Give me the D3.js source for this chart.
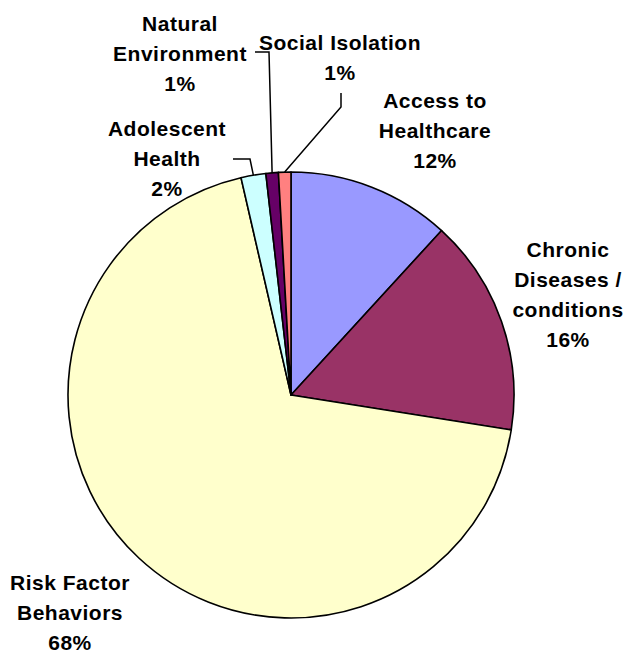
<!DOCTYPE html>
<html>
<head>
<meta charset="utf-8">
<script src="https://cdn.jsdelivr.net/npm/d3@7"></script>
<style>
  html, body { margin: 0; padding: 0; background: #fff; }
  svg { display: block; }
  text { font-family: "Liberation Sans", Arial, sans-serif; font-weight: bold; fill: #000; }
</style>
</head>
<body>
<svg id="chart" width="629" height="654"></svg>
<script>
// ---- data ----
const categories = ["Access to Healthcare", "Chronic Diseases / conditions", "Risk Factor Behaviors",
                    "Adolescent Health", "Natural Environment", "Social Isolation"];
const values = [11.8, 15.7, 68.9, 1.8, 0.9, 0.9];
const pctLabels = ["12%", "16%", "68%", "2%", "1%", "1%"];
const labelLines = [
  ["Access to", "Healthcare"],
  ["Chronic", "Diseases /", "conditions"],
  ["Risk Factor", "Behaviors"],
  ["Adolescent", "Health"],
  ["Natural", "Environment"],
  ["Social Isolation"]
];
const colors = ["#9999FF", "#993366", "#FFFFCC", "#CCFFFF", "#660066", "#FF8080"];

// ---- layout ----
const cx = 291, cy = 395, r = 223;
const fontSize = 21, lineH = 30;
// label anchor: center x, first baseline y
const labelPos = [
  { x: 435, y: 108 },
  { x: 568, y: 257 },
  { x: 70,  y: 590 },
  { x: 167, y: 136 },
  { x: 180, y: 31 },
  { x: 340, y: 50 }
];
// leader line waypoints (label side), null if none
const leaders = [
  null, null, null,
  [[233, 159], [250, 159]],
  [[255, 52], [269, 52]],
  [[341, 93], [341, 107]]
];

const svg = d3.select("#chart");
const g = svg.append("g").attr("transform", `translate(${cx},${cy})`);

const pie = d3.pie().sort(null).value(d => d).startAngle(0).endAngle(2 * Math.PI);
const arcs = pie(values);
const arc = d3.arc().innerRadius(0).outerRadius(r);

g.selectAll("path.slice")
  .data(arcs)
  .join("path")
  .attr("class", "slice")
  .attr("d", arc)
  .attr("fill", (d, i) => colors[i])
  .attr("stroke", "#000")
  .attr("stroke-width", 1.6)
  .attr("stroke-linejoin", "round");

// leader lines
arcs.forEach((a, i) => {
  if (!leaders[i]) return;
  const mid = (a.startAngle + a.endAngle) / 2;
  const ex = cx + r * Math.sin(mid), ey = cy - r * Math.cos(mid);
  const pts = leaders[i].concat([[ex, ey]]);
  svg.append("path")
    .attr("d", d3.line()(pts))
    .attr("fill", "none")
    .attr("stroke", "#000")
    .attr("stroke-width", 1.5);
});

// labels
labelPos.forEach((p, i) => {
  const lines = labelLines[i].concat([pctLabels[i]]);
  const t = svg.append("text")
    .attr("text-anchor", "middle")
    .attr("font-size", fontSize)
    .attr("letter-spacing", 0.5);
  lines.forEach((ln, k) => {
    t.append("tspan").attr("x", p.x).attr("y", p.y + k * lineH).text(ln);
  });
});
</script>
</body>
</html>
